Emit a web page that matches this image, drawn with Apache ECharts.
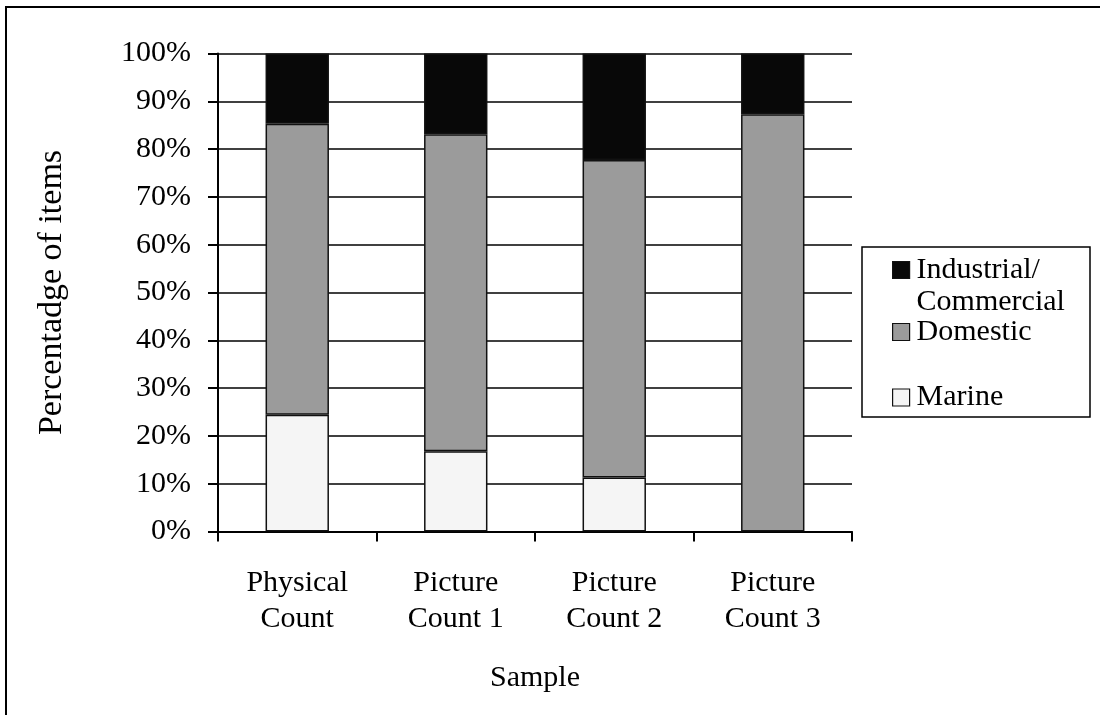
<!DOCTYPE html>
<html>
<head>
<meta charset="utf-8">
<script src="https://cdn.jsdelivr.net/npm/echarts@6/dist/echarts.min.js"></script>
<style>
html,body{margin:0;padding:0;background:#fff;}
#chart{width:1100px;height:715px;}
</style>
</head>
<body>
<div id="chart"></div>
<script>
// ---- data ----
const categories = ['Physical\nCount', 'Picture\nCount 1', 'Picture\nCount 2', 'Picture\nCount 3'];
const marine = [24.4, 16.8, 11.3, 0];
const domestic = [60.9, 66.3, 66.4, 87.3];
const industrial = [14.7, 16.9, 22.3, 12.7];
const yTicks = { min: 0, max: 100, interval: 10 };
const seriesNames = ['Marine', 'Domestic', 'Industrial/Commercial'];
const xTitle = 'Sample';
const yTitle = 'Percentadge of items';

const FONT = '"Liberation Serif", "Times New Roman", serif';
const FS = 30;
const colors = { 'Marine': '#f5f5f5', 'Domestic': '#9b9b9b', 'Industrial/Commercial': '#080808' };

const chart = echarts.init(document.getElementById('chart'));

function bar(name, data) {
  return {
    name: name, type: 'bar', stack: 'total',
    data: data.map(v => (v === 0 ? '-' : v)),
    barWidth: '40%',
    itemStyle: { color: colors[name], borderColor: '#111', borderWidth: 1.5 },
    emphasis: { disabled: true }
  };
}

function legend(name, top, formatter) {
  return {
    data: [name], left: 892, top: top, orient: 'vertical', padding: 0,
    itemWidth: 17, itemHeight: 17, selectedMode: false,
    icon: 'rect',
    itemStyle: { borderColor: '#111', borderWidth: 1.2 },
    formatter: formatter || name,
    textStyle: { fontFamily: FONT, fontSize: FS, color: '#000', lineHeight: 32, padding: [0, 0, 0, 2] }
  };
}

chart.setOption({
  animation: false,
  backgroundColor: '#fff',
  textStyle: { fontFamily: FONT },
  graphic: [
    { type: 'rect', shape: { x: 6, y: 7, width: 1300, height: 900 }, style: { fill: 'none', stroke: '#000', lineWidth: 2 }, silent: true },
    { type: 'rect', shape: { x: 862, y: 247, width: 228, height: 170 }, style: { fill: '#fff', stroke: '#000', lineWidth: 1.5 }, silent: true, z: -1 }
  ],
  grid: { left: 218, right: 248, top: 53.5, bottom: 183.5 },
  legend: [
    legend(seriesNames[2], 222, ' \nIndustrial/\nCommercial'),
    legend(seriesNames[1], 316),
    legend(seriesNames[0], 381.5)
  ],
  xAxis: {
    type: 'category', data: categories,
    name: xTitle, nameLocation: 'middle', nameGap: 132,
    nameTextStyle: { fontFamily: FONT, fontSize: FS, color: '#000' },
    axisLine: { lineStyle: { color: '#000', width: 2 } },
    axisTick: { show: true, length: 10, lineStyle: { color: '#000', width: 2 } },
    axisLabel: { fontFamily: FONT, fontSize: FS, color: '#000', lineHeight: 36, margin: 34, interval: 0 }
  },
  yAxis: {
    type: 'value', min: yTicks.min, max: yTicks.max, interval: yTicks.interval,
    name: yTitle, nameLocation: 'middle', nameGap: 149, nameRotate: 90,
    nameTextStyle: { fontFamily: FONT, fontSize: 34, color: '#000' },
    axisLine: { show: true, lineStyle: { color: '#000', width: 2 } },
    axisTick: { show: true, length: 10, lineStyle: { color: '#000', width: 2 } },
    axisLabel: { fontFamily: FONT, fontSize: FS, color: '#000', margin: 27, formatter: '{value}%' },
    splitLine: { show: true, lineStyle: { color: '#000', width: 1.5 } }
  },
  series: [
    bar(seriesNames[0], marine),
    bar(seriesNames[1], domestic),
    bar(seriesNames[2], industrial)
  ]
});
</script>
</body>
</html>
